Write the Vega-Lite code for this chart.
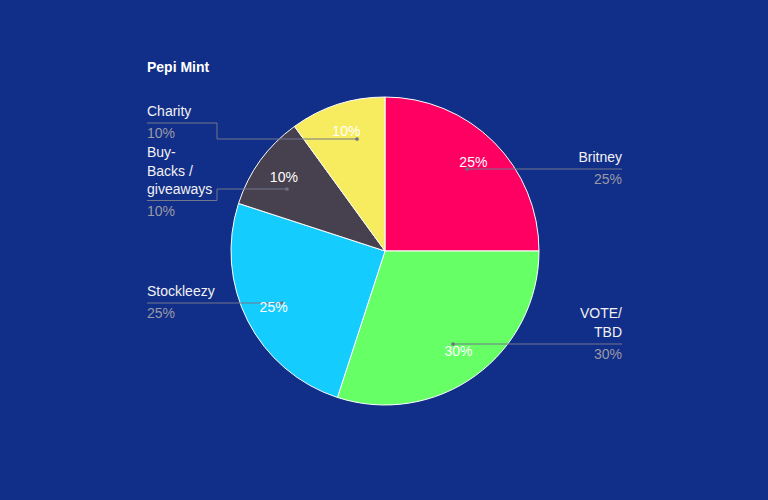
{
  "$schema": "https://vega.github.io/schema/vega-lite/v6.json",
  "width": 770,
  "height": 502,
  "autosize": "none",
  "padding": 0,
  "background": "#112e88",
  "title": {"text": "Pepi Mint", "anchor": "start", "dx": 147, "dy": 82, "offset": 0, "baseline": "middle", "color": "#ffffff", "font": "Liberation Sans", "fontSize": 14, "fontWeight": "bold"},
  "config": {"view": {"stroke": null}, "text": {"font": "Liberation Sans", "fontSize": 14}},
  "datasets": {
    "slices": [
      {"n": 1, "name": "Britney", "share": 0.25},
      {"n": 2, "name": "VOTE/TBD", "share": 0.30},
      {"n": 3, "name": "Stockleezy", "share": 0.25},
      {"n": 4, "name": "Buy-Backs / giveaways", "share": 0.10},
      {"n": 5, "name": "Charity", "share": 0.10}
    ],
    "segments": [
      {"name": "Britney", "x": 467, "y": 169, "x2": 622, "y2": 169},
      {"name": "VOTE/TBD", "x": 453, "y": 344, "x2": 622, "y2": 344},
      {"name": "Stockleezy", "x": 147, "y": 303, "x2": 282, "y2": 303},
      {"name": "Buy-Backs / giveaways", "x": 147, "y": 200.5, "x2": 217, "y2": 200.5},
      {"name": "Buy-Backs / giveaways", "x": 217, "y": 189, "x2": 217, "y2": 200.5},
      {"name": "Buy-Backs / giveaways", "x": 217, "y": 189, "x2": 287, "y2": 189},
      {"name": "Charity", "x": 147, "y": 123, "x2": 217, "y2": 123},
      {"name": "Charity", "x": 217, "y": 123, "x2": 217, "y2": 139},
      {"name": "Charity", "x": 217, "y": 139, "x2": 357, "y2": 139}
    ],
    "dots": [
      {"name": "Britney", "x": 467, "y": 169},
      {"name": "VOTE/TBD", "x": 453, "y": 344},
      {"name": "Stockleezy", "x": 282, "y": 303},
      {"name": "Buy-Backs / giveaways", "x": 287, "y": 189},
      {"name": "Charity", "x": 357, "y": 139}
    ],
    "labels": [
      {"t": "Charity", "kind": "name", "side": "left", "x": 147, "y": 112},
      {"t": "10%", "kind": "pct", "side": "left", "x": 147, "y": 134},
      {"t": "Buy-", "kind": "name", "side": "left", "x": 147, "y": 153},
      {"t": "Backs /", "kind": "name", "side": "left", "x": 147, "y": 171.5},
      {"t": "giveaways", "kind": "name", "side": "left", "x": 147, "y": 190},
      {"t": "10%", "kind": "pct", "side": "left", "x": 147, "y": 212},
      {"t": "Stockleezy", "kind": "name", "side": "left", "x": 147, "y": 292},
      {"t": "25%", "kind": "pct", "side": "left", "x": 147, "y": 314},
      {"t": "Britney", "kind": "name", "side": "right", "x": 622, "y": 158},
      {"t": "25%", "kind": "pct", "side": "right", "x": 622, "y": 180},
      {"t": "VOTE/", "kind": "name", "side": "right", "x": 622, "y": 314},
      {"t": "TBD", "kind": "name", "side": "right", "x": 622, "y": 333},
      {"t": "30%", "kind": "pct", "side": "right", "x": 622, "y": 355}
    ]
  },
  "layer": [
    {
      "data": {"name": "slices"},
      "mark": {"type": "arc", "outerRadius": 154, "stroke": "#ffffff", "strokeWidth": 1},
      "encoding": {
        "theta": {"field": "share", "type": "quantitative", "stack": true},
        "order": {"field": "n", "type": "quantitative"},
        "color": {"field": "name", "type": "nominal", "legend": null,
          "scale": {"domain": ["Britney", "VOTE/TBD", "Stockleezy", "Buy-Backs / giveaways", "Charity"],
                    "range": ["#ff0062", "#66ff66", "#15ccff", "#47414f", "#f7ec5f"]}}
      }
    },
    {
      "data": {"name": "segments"},
      "mark": {"type": "rule", "color": "#73778c", "strokeWidth": 1},
      "encoding": {
        "x": {"field": "x", "type": "quantitative", "scale": {"domain": [0, 770], "range": [0, 770]}, "axis": null},
        "y": {"field": "y", "type": "quantitative", "scale": {"domain": [0, 502], "range": [0, 502]}, "axis": null},
        "x2": {"field": "x2"},
        "y2": {"field": "y2"}
      }
    },
    {
      "data": {"name": "dots"},
      "mark": {"type": "circle", "size": 14, "color": "#6f7080", "opacity": 1},
      "encoding": {
        "x": {"field": "x", "type": "quantitative", "scale": {"domain": [0, 770], "range": [0, 770]}, "axis": null},
        "y": {"field": "y", "type": "quantitative", "scale": {"domain": [0, 502], "range": [0, 502]}, "axis": null}
      }
    },
    {
      "data": {"name": "slices"},
      "mark": {"type": "text", "radius": 125, "color": "#ffffff", "fontSize": 14},
      "encoding": {
        "theta": {"field": "share", "type": "quantitative", "stack": true},
        "order": {"field": "n", "type": "quantitative"},
        "text": {"field": "share", "type": "quantitative", "format": ".0%"}
      }
    },
    {
      "data": {"name": "labels"},
      "transform": [{"filter": "datum.side === 'left'"}],
      "mark": {"type": "text", "align": "left", "baseline": "middle", "fontSize": 14},
      "encoding": {
        "x": {"field": "x", "type": "quantitative", "scale": {"domain": [0, 770], "range": [0, 770]}, "axis": null},
        "y": {"field": "y", "type": "quantitative", "scale": {"domain": [0, 502], "range": [0, 502]}, "axis": null},
        "text": {"field": "t"},
        "color": {"field": "kind", "type": "nominal", "legend": null, "scale": {"domain": ["name", "pct"], "range": ["#f2f2f2", "#9a9aa6"]}}
      }
    },
    {
      "data": {"name": "labels"},
      "transform": [{"filter": "datum.side === 'right'"}],
      "mark": {"type": "text", "align": "right", "baseline": "middle", "fontSize": 14},
      "encoding": {
        "x": {"field": "x", "type": "quantitative", "scale": {"domain": [0, 770], "range": [0, 770]}, "axis": null},
        "y": {"field": "y", "type": "quantitative", "scale": {"domain": [0, 502], "range": [0, 502]}, "axis": null},
        "text": {"field": "t"},
        "color": {"field": "kind", "type": "nominal", "legend": null, "scale": {"domain": ["name", "pct"], "range": ["#f2f2f2", "#9a9aa6"]}}
      }
    }
  ],
  "resolve": {"scale": {"color": "independent"}}
}
